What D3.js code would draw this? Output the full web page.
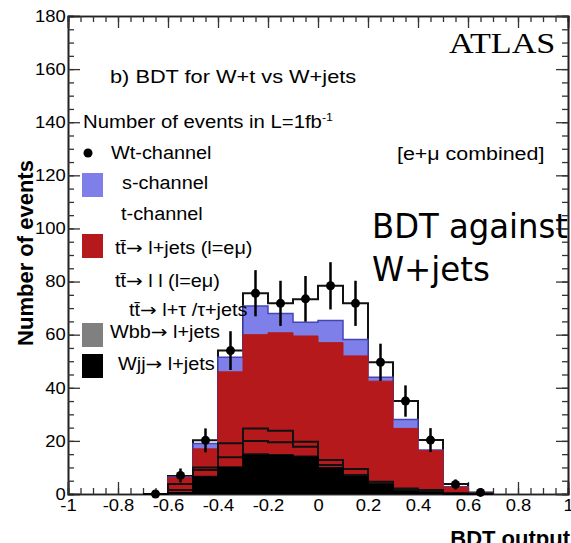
<!DOCTYPE html>
<html>
<head>
<meta charset="utf-8">
<script src="https://cdn.jsdelivr.net/npm/d3@7"></script>
<style>
  body { margin: 0; background: #fff; }
  svg { display: block; }
</style>
</head>
<body>
<svg id="plot"></svg>
<script>
'use strict';

const plotWidth = 571;
const plotHeight = 543;
const frame = { left: 68, right: 568, top: 16, bottom: 494 };
const sans = "'Liberation Sans', Arial, sans-serif";
const stretch = 1.13; // the original picture is a bit wider than tall

// lower edges of the filled bins (bin width 0.1)
const binLow = [-0.7, -0.6, -0.5, -0.4, -0.3, -0.2, -0.1, 0.0, 0.1, 0.2, 0.3, 0.4, 0.5, 0.6];
const binWidth = 0.1;

// stacked backgrounds, bottom to top
const wjj     = [0, 0.4, 6.3, 9.9, 14.7, 14.4, 13.8, 9.6, 6.5, 3.5, 0.9, 0.5, 0.1, 0];
const wbb     = [0, 0.1, 0.3, 0.3, 0.4, 0.4, 0.4, 0.3, 0.2, 0.1, 0.1, 0.05, 0, 0];
const ttTau   = [0, 1.0, 2.4, 3.6, 4.9, 4.7, 3.6, 1.0, 0.5, 0.4, 0.5, 0.45, 0.1, 0];
const ttLL    = [0, 2.3, 1.0, 5.3, 4.7, 4.3, 1.9, 1.9, 2.2, 0.6, 0.6, 0.5, 0.1, 0.1];
const ttLJets = [0, 2.3, 7.0, 26.9, 35.3, 36.9, 39.8, 44.2, 42.6, 37.9, 22.6, 14.8, 2.3, 0.2];
const sChan   = [0, 0.3, 2.0, 5.5, 10.8, 7.3, 5.2, 8.3, 6.2, 1.5, 3.4, 0.3, 0.1, 0.05];
const tChan   = [0, 0.4, 1.2, 2.5, 4.8, 3.8, 8.6, 13.1, 13.6, 5.6, 6.9, 3.7, 1.1, 0.25];

// Wt-channel points and their errors
const wtData = [0, 7.0, 20.2, 54.0, 75.6, 71.8, 73.5, 78.4, 71.8, 49.6, 35.0, 20.3, 3.6, 0.6];
const wtErr  = [0, 2.6, 4.5, 7.3, 8.7, 8.5, 8.6, 8.9, 8.5, 7.0, 5.9, 4.5, 1.9, 0.8];

const xTicks = [-1, -0.8, -0.6, -0.4, -0.2, 0, 0.2, 0.4, 0.6, 0.8, 1];
const yTicks = [0, 20, 40, 60, 80, 100, 120, 140, 160, 180];

const layerKeys = ['wjj', 'wbb', 'ttTau', 'ttLL', 'ttLJets', 'sChan', 'tChan'];
const layerStyle = {
    tChan:   { fill: '#ffffff', stroke: '#111', width: 2 },
    sChan:   { fill: '#7f7fe9', stroke: '#4545b5', width: 1.5 },
    ttLJets: { fill: '#b5191c', stroke: '#b5191c', width: 1 },
    ttLL:    { fill: 'none',    stroke: '#111', width: 2 },
    ttTau:   { fill: 'none',    stroke: '#111', width: 2 },
    wbb:     { fill: '#808080', stroke: '#111', width: 1.5 },
    wjj:     { fill: '#000000', stroke: '#000', width: 1.5 }
};

const svg = d3.select('#plot')
    .attr('width', plotWidth)
    .attr('height', plotHeight);

const x = d3.scaleLinear().domain([-1, 1]).range([frame.left, frame.right]);
const y = d3.scaleLinear().domain([0, 180]).range([frame.bottom, frame.top]);

function label(px, py, str, size, opts = {}) {
    return svg.append('text')
        .attr('transform', `translate(${px},${py}) scale(${opts.sx ?? stretch},1)`)
        .attr('font-family', opts.family || sans)
        .attr('font-size', size)
        .attr('font-weight', opts.weight || 'normal')
        .attr('text-anchor', opts.anchor || 'start')
        .attr('fill', '#000')
        .text(str);
}

// legend entry with a long arrow: "before → after"
function arrowLabel(px, py, before, after) {
    const t = label(px, py, '', 17.6);
    t.append('tspan').text(before);
    t.append('tspan').attr('font-family', "'DejaVu Sans', sans-serif").text('\u2192');
    t.append('tspan').text(after);
    return t;
}

function renderAxes() {
    const minorX = d3.range(-1, 1.0001, 0.05);
    const minorY = d3.range(0, 180.001, 5);
    const axes = svg.append('g').attr('class', 'axes');

    const add = (axis, transform) => axes.append('g')
        .attr('transform', transform)
        .call(axis);

    // left
    add(d3.axisLeft(y).tickValues(yTicks).tickSize(-12).tickPadding(2)
        .tickFormat(d3.format('d')), `translate(${frame.left},0)`);
    add(d3.axisLeft(y).tickValues(minorY).tickSize(-6).tickFormat(''),
        `translate(${frame.left},0)`);
    // bottom
    add(d3.axisBottom(x).tickValues(xTicks).tickSize(-12).tickPadding(5)
        .tickFormat(d => String(+d.toFixed(1))), `translate(0,${frame.bottom})`);
    add(d3.axisBottom(x).tickValues(minorX).tickSize(-6).tickFormat(''),
        `translate(0,${frame.bottom})`);
    // top and right, no labels
    add(d3.axisTop(x).tickValues(xTicks).tickSize(-12).tickFormat(''),
        `translate(0,${frame.top})`);
    add(d3.axisTop(x).tickValues(minorX).tickSize(-6).tickFormat(''),
        `translate(0,${frame.top})`);
    add(d3.axisRight(y).tickValues(yTicks).tickSize(-12).tickFormat(''),
        `translate(${frame.right},0)`);
    add(d3.axisRight(y).tickValues(minorY).tickSize(-6).tickFormat(''),
        `translate(${frame.right},0)`);

    axes.selectAll('.domain')
        .attr('stroke', '#222')
        .attr('stroke-width', 1.6);
    axes.selectAll('.tick line')
        .attr('stroke', '#333')
        .attr('stroke-width', 1.3);
    axes.selectAll('.tick text')
        .attr('font-family', sans)
        .attr('font-size', 16.3)
        .attr('fill', '#000')
        .attr('transform', `scale(${stretch},1)`);
}

function stepPoints(series) {
    const pts = [[series[0].data.lo, 0]];
    series.forEach(d => {
        pts.push([d.data.lo, d[1]]);
        pts.push([d.data.lo + binWidth, d[1]]);
    });
    pts.push([series[series.length - 1].data.lo + binWidth, 0]);
    return pts;
}

function renderStack() {
    const rows = binLow.map((lo, i) => ({
        lo,
        wjj: wjj[i], wbb: wbb[i], ttTau: ttTau[i], ttLL: ttLL[i],
        ttLJets: ttLJets[i], sChan: sChan[i], tChan: tChan[i]
    }));
    const stacked = d3.stack().keys(layerKeys)(rows);
    const line = d3.line().x(p => x(p[0])).y(p => y(p[1]));

    // like THStack: draw the cumulative sums from the top down
    svg.append('g')
        .attr('class', 'stack')
        .selectAll('path')
        .data(stacked.slice().reverse())
        .join('path')
        .attr('d', s => line(stepPoints(s)))
        .attr('fill', s => layerStyle[s.key].fill)
        .attr('stroke', s => layerStyle[s.key].stroke)
        .attr('stroke-width', s => layerStyle[s.key].width)
        .attr('stroke-linejoin', 'miter');
}

function renderPoints() {
    const pts = binLow.map((lo, i) => ({ c: lo + binWidth / 2, v: wtData[i], e: wtErr[i] }));
    const g = svg.append('g').attr('class', 'points');

    g.selectAll('line')
        .data(pts.filter(p => p.e > 0))
        .join('line')
        .attr('x1', p => x(p.c))
        .attr('x2', p => x(p.c))
        .attr('y1', p => y(p.v - p.e))
        .attr('y2', p => y(p.v + p.e))
        .attr('stroke', '#000')
        .attr('stroke-width', 2.5);

    g.selectAll('circle')
        .data(pts)
        .join('circle')
        .attr('cx', p => x(p.c))
        .attr('cy', p => y(p.v))
        .attr('r', 4.5)
        .attr('fill', '#000');
}

function renderLegend() {
    label(110, 83, 'b) BDT for W+t vs W+jets', 18.6, { sx: 1.17 });

    const lumi = label(83, 128, 'Number of events in L=1fb', 18);
    lumi.append('tspan').attr('dy', -7).attr('font-size', 11).text('-1');

    svg.append('circle').attr('cx', 88).attr('cy', 153).attr('r', 4.5).attr('fill', '#000');
    label(111, 159, 'Wt-channel', 17.6);

    const boxes = [
        { y: 173, fill: layerStyle.sChan.fill },
        { y: 234, fill: layerStyle.ttLJets.fill },
        { y: 323, fill: layerStyle.wbb.fill },
        { y: 354, fill: layerStyle.wjj.fill }
    ];
    svg.append('g').selectAll('rect')
        .data(boxes)
        .join('rect')
        .attr('x', 82).attr('y', b => b.y)
        .attr('width', 21).attr('height', 24)
        .attr('fill', b => b.fill);

    label(122, 189, 's-channel', 17.6);
    label(121, 220, 't-channel', 17.6);
    arrowLabel(115, 254, 'tt\u0304', ' l+jets (l=e\u03bc)');
    arrowLabel(115, 287, 'tt\u0304', ' l l (l=e\u03bc)');
    arrowLabel(129, 316, 'tt\u0304', ' l+\u03c4 /\u03c4+jets');
    arrowLabel(110, 338, 'Wbb', ' l+jets');
    arrowLabel(118, 370, 'Wjj', ' l+jets');

    label(449, 53, 'ATLAS', 30, { family: "'Liberation Serif', 'Times New Roman', serif", sx: 1.14 });
    label(397, 160, '[e+\u03bc combined]', 18, { sx: 1.19 });

    label(372, 238, 'BDT against', 33, { family: "'DejaVu Sans', sans-serif", sx: 1 })
        .attr('textLength', 196).attr('lengthAdjust', 'spacingAndGlyphs');
    label(372, 281, 'W+jets', 33, { family: "'DejaVu Sans', sans-serif", sx: 1 })
        .attr('textLength', 118).attr('lengthAdjust', 'spacingAndGlyphs');

    svg.append('text')
        .attr('transform', 'translate(33,253) rotate(-90)')
        .attr('font-family', sans)
        .attr('font-size', 22)
        .attr('font-weight', 'bold')
        .attr('text-anchor', 'middle')
        .text('Number of events');

    label(570, 546, 'BDT output', 22, { weight: 'bold', anchor: 'end', sx: 1 });
}

renderAxes();
renderStack();
renderPoints();
renderLegend();
</script>
</body>
</html>
